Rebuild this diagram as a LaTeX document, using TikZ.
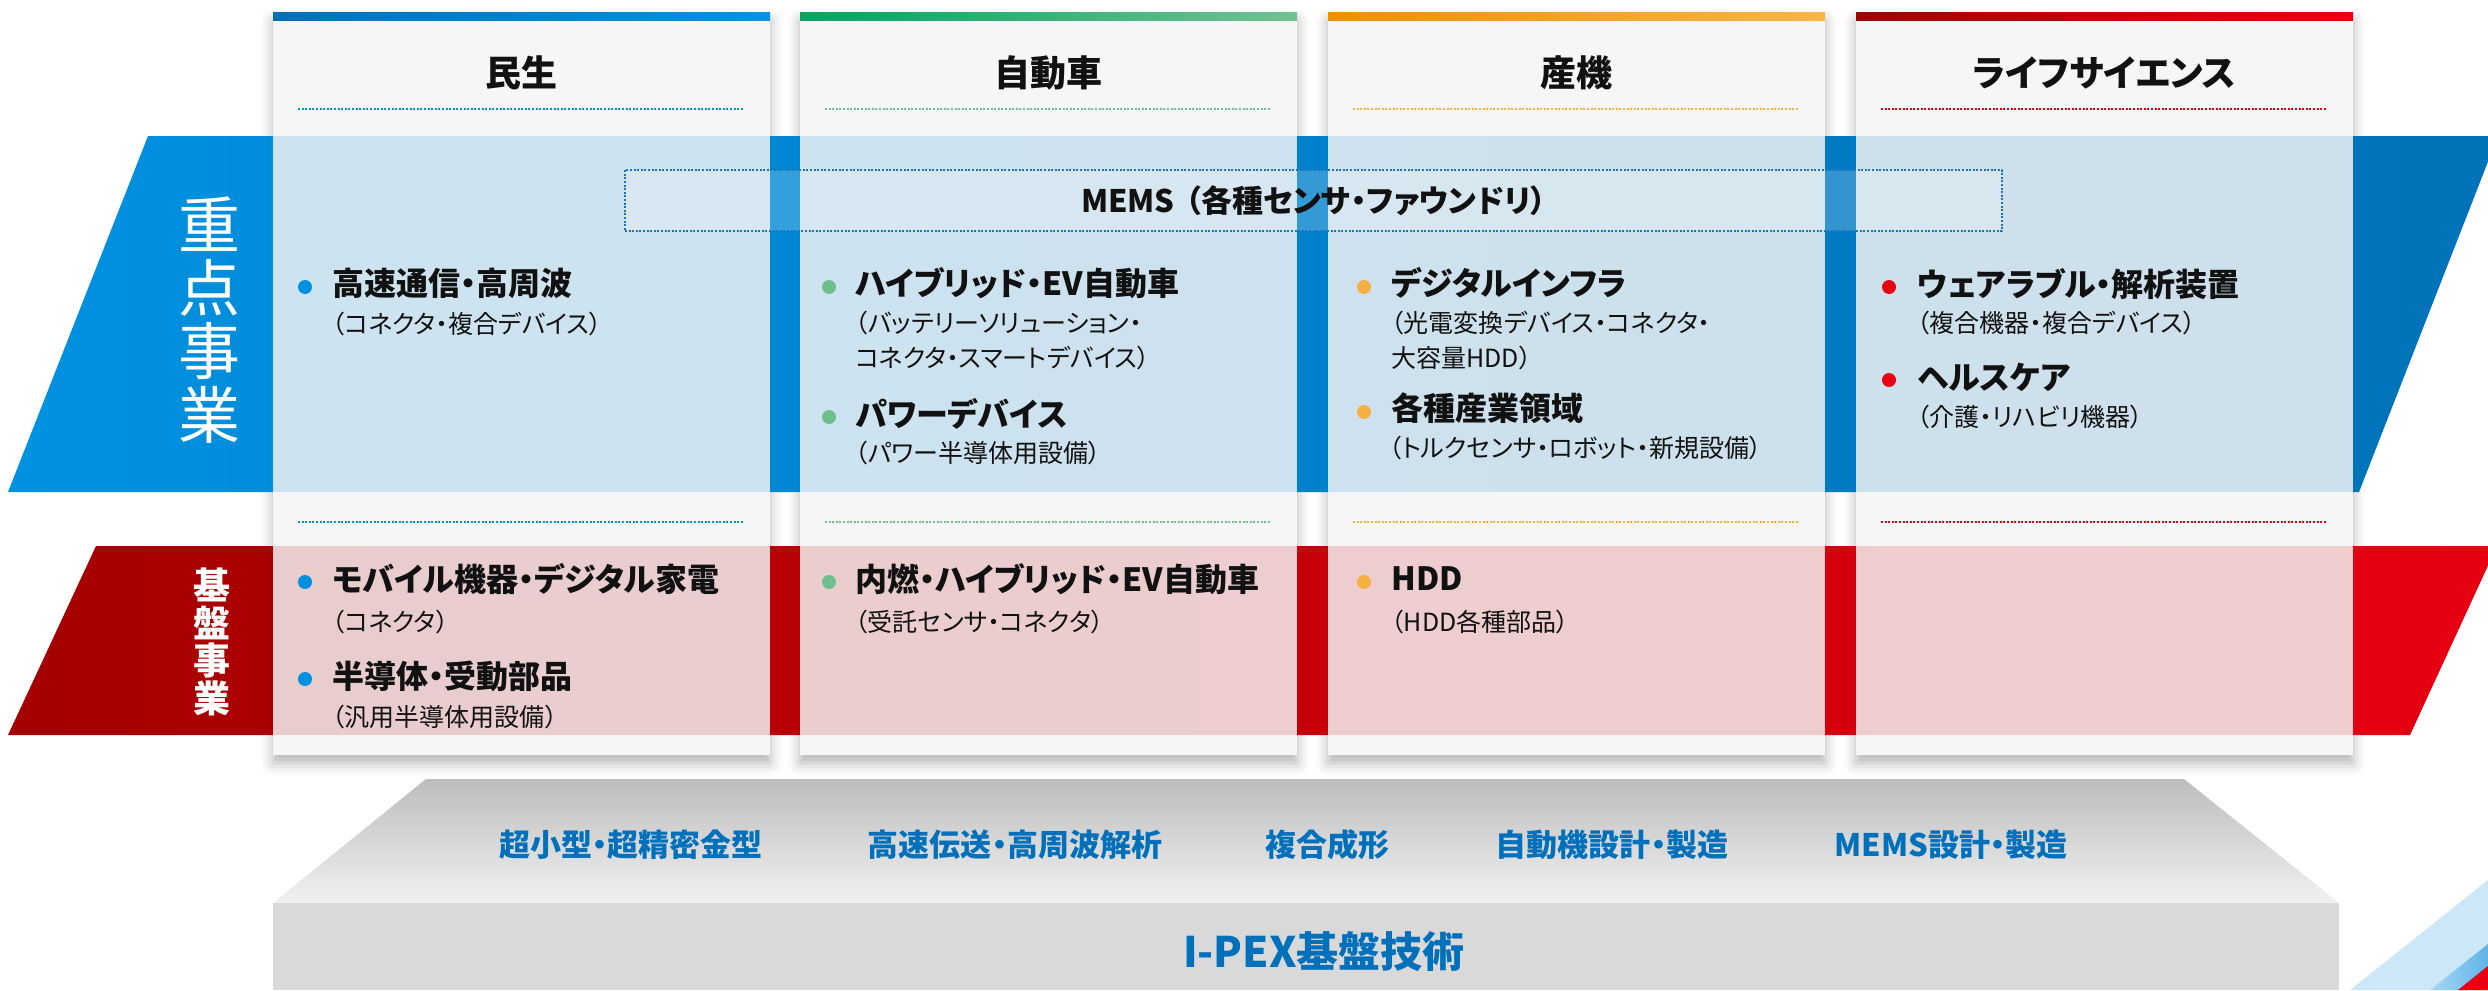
\documentclass[tikz,border=0pt]{standalone}
\usepackage{fontspec}
\setmainfont{Noto Sans CJK JP}[RawFeature=+palt]
\usetikzlibrary{shadows.blur}
\definecolor{bandBlueL}{HTML}{0091E0}
\definecolor{bandBlueR}{HTML}{0072B8}
\definecolor{bandRedL}{HTML}{A40000}
\definecolor{bandRedR}{HTML}{E60012}
\definecolor{cardgray}{HTML}{F5F5F5}
\definecolor{barAL}{HTML}{0070B8}\definecolor{barAR}{HTML}{0092E2}
\definecolor{barBL}{HTML}{00A55E}\definecolor{barBR}{HTML}{72C193}
\definecolor{barCL}{HTML}{EF9000}\definecolor{barCR}{HTML}{F8B54A}
\definecolor{barDL}{HTML}{A00000}\definecolor{barDR}{HTML}{E60012}
\definecolor{dotA}{HTML}{0090DF}
\definecolor{dotB}{HTML}{6DBF8C}
\definecolor{dotC}{HTML}{F6B042}
\definecolor{dotD}{HTML}{E60012}
\definecolor{txt}{HTML}{111111}
\definecolor{skill}{HTML}{0070BB}
\definecolor{memsline}{HTML}{1A74BC}
\definecolor{platTop}{HTML}{BDBDBD}
\definecolor{platBot}{HTML}{F1F1F1}
\definecolor{platFront}{HTML}{D9D9D9}
\definecolor{stripeL}{HTML}{CCE8F8}
\definecolor{stripeM1}{HTML}{A8D8F4}
\definecolor{stripeM2}{HTML}{5FB3E8}
\tikzset{
  cardbase/.style={fill=white, blur shadow={shadow xshift=0pt, shadow yshift=-4pt, shadow blur radius=6pt, shadow opacity=30}},
  cardtop/.style={fill=cardgray, fill opacity=0.84},
  hdot/.style={line width=1.3pt, dash pattern=on 1pt off 0.8pt},
  head/.style={font=\fontsize{18}{20}\selectfont\bfseries, text=txt, inner sep=0pt},
  itm/.style={font=\fontsize{16}{19}\selectfont\bfseries, text=txt, anchor=west, inner sep=0pt},
  sub/.style={font=\fontsize{12.5}{15}\selectfont, text=txt, anchor=west, inner sep=0pt},
  bul/.style={circle, inner sep=0pt, minimum size=7pt},
  skl/.style={font=\fontsize{15.5}{18}\selectfont\bfseries, text=skill, inner sep=0pt},
  memsbox/.style={draw=memsline, line width=1pt, dash pattern=on 1pt off 0.8pt, fill=white, fill opacity=0.2, text opacity=1, inner sep=0pt},
  sidelabel/.style={text=white, align=center, inner sep=0pt},
}
\begin{document}
\begin{tikzpicture}[x=0.5pt,y=-0.5pt]
\useasboundingbox (0,0) rectangle (2488,990);

% card bases with shadow
\foreach \l in {273,800,1328,1856} {
  \fill[cardbase] (\l,13) rectangle ++(497,742);
}

% bands
\shade[left color=bandBlueL, right color=bandBlueR] (148,136) -- (2498,136) -- (2359,492) -- (8,492) -- cycle;
\shade[left color=bandRedL, right color=bandRedR] (96,546) -- (2497,546) -- (2410,735) -- (8,735) -- cycle;

% translucent cards
\foreach \l in {273,800,1328,1856} {
  \fill[cardtop] (\l,13) rectangle ++(497,742);
}

% top colour bars
\shade[left color=barAL, right color=barAR] (273,13) rectangle (770,21);
\shade[left color=barBL, right color=barBR] (800,13) rectangle (1297,21);
\shade[left color=barCL, right color=barCR] (1328,13) rectangle (1825,21);
\shade[left color=barDL, right color=barDR] (1856,13) rectangle (2353,21);

% headers
\node[head] (h1) at (521.5,73) {民生};
\node[head] (h2) at (1048.5,73) {自動車};
\node[head] (h3) at (1576.5,73) {産機};
\node[head] (h4) at (2104.5,73) {ライフサイエンス};

% dotted lines
\foreach \l/\c in {273/dotA,800/dotB,1328/dotC,1856/dotD} {
  \draw[hdot, \c] (\l+25,109) -- (\l+470,109);
  \draw[hdot, \c] (\l+25,522) -- (\l+470,522);
}

% left labels
\node[sidelabel, font=\fontsize{31}{31.6}\selectfont] (focus) at (209,320) {重\\点\\事\\業};
\node[sidelabel, font=\fontsize{18.5}{18.7}\selectfont\bfseries] (base) at (212,642) {基\\盤\\事\\業};

% MEMS box
\node[memsbox, minimum width=688.5pt, minimum height=30.5pt] (mems) at (1313.5,200.5) {};
\node[font=\fontsize{15.5}{18}\selectfont\bfseries, text=txt, inner sep=0pt] (memst) at (1313.5,201) {MEMS\hspace{0.35em}（各種センサ・ファウンドリ）};

% column 1 (focus)
\node[bul, fill=dotA] (b11) at (305,287) {};
\node[itm] (t11) at (332,283) {高速通信・高周波};
\node[sub] (s11) at (332,324) {（コネクタ・複合デバイス）};
% column 2 (focus)
\node[bul, fill=dotB] (b21) at (829,287) {};
\node[itm] (t21) at (855,283) {ハイブリッド・EV自動車};
\node[sub] (s21a) at (855,323) {（バッテリーソリューション・};
\node[sub] (s21b) at (855,358) {コネクタ・スマートデバイス）};
\node[bul, fill=dotB] (b22) at (829,417) {};
\node[itm] (t22) at (855,414) {パワーデバイス};
\node[sub] (s22) at (855,453) {（パワー半導体用設備）};
% column 3 (focus)
\node[bul, fill=dotC] (b31) at (1364,287) {};
\node[itm] (t31) at (1391,283) {デジタルインフラ};
\node[sub] (s31a) at (1391,323) {（光電変換デバイス・コネクタ・};
\node[sub] (s31b) at (1391,358) {大容量HDD）};
\node[bul, fill=dotC] (b32) at (1364,412) {};
\node[itm] (t32) at (1391,408) {各種産業領域};
\node[sub] (s32) at (1389,448) {（トルクセンサ・ロボット・新規設備）};
% column 4 (focus)
\node[bul, fill=dotD] (b41) at (1889,287) {};
\node[itm] (t41) at (1917,284) {ウェアラブル・解析装置};
\node[sub] (s41) at (1917,323) {（複合機器・複合デバイス）};
\node[bul, fill=dotD] (b42) at (1889,380) {};
\node[itm] (t42) at (1917,377) {ヘルスケア};
\node[sub] (s42) at (1917,417) {（介護・リハビリ機器）};

% base business
\node[bul, fill=dotA] (c11) at (305,582) {};
\node[itm] (u11) at (332,579) {モバイル機器・デジタル家電};
\node[sub] (v11) at (332,622) {（コネクタ）};
\node[bul, fill=dotA] (c12) at (305,679) {};
\node[itm] (u12) at (332,676) {半導体・受動部品};
\node[sub] (v12) at (332,717) {（汎用半導体用設備）};
\node[bul, fill=dotB] (c21) at (829,582) {};
\node[itm] (u21) at (855,579) {内燃・ハイブリッド・EV自動車};
\node[sub] (v21) at (855,622) {（受託センサ・コネクタ）};
\node[bul, fill=dotC] (c31) at (1364,582) {};
\node[itm] (u31) at (1391,579) {HDD};
\node[sub] (v31) at (1391,622) {（HDD各種部品）};

% platform
\shade[top color=platTop, bottom color=platBot] (426,779) -- (2184,779) -- (2339,903) -- (273,903) -- cycle;
\fill[platFront] (273,903) rectangle (2339,990);
\node[skl] (k1) at (631,845) {超小型・超精密金型};
\node[skl] (k2) at (1015,845) {高速伝送・高周波解析};
\node[skl] (k3) at (1327,845) {複合成形};
\node[skl] (k4) at (1612,845) {自動機設計・製造};
\node[skl] (k5) at (1951,845) {MEMS設計・製造};
\node[font=\fontsize{21}{24}\selectfont\bfseries, text=skill, inner sep=0pt] (ipex) at (1324,952) {I-PEX基盤技術};

% corner stripes
\fill[stripeL] (2488,880) -- (2350,990) -- (2488,990) -- cycle;
\shade[left color=stripeM1, right color=stripeM2] (2488,944) -- (2430,990) -- (2488,990) -- cycle;
\fill[dotD] (2488,966) -- (2458,990) -- (2488,990) -- cycle;
\end{tikzpicture}
\end{document}
